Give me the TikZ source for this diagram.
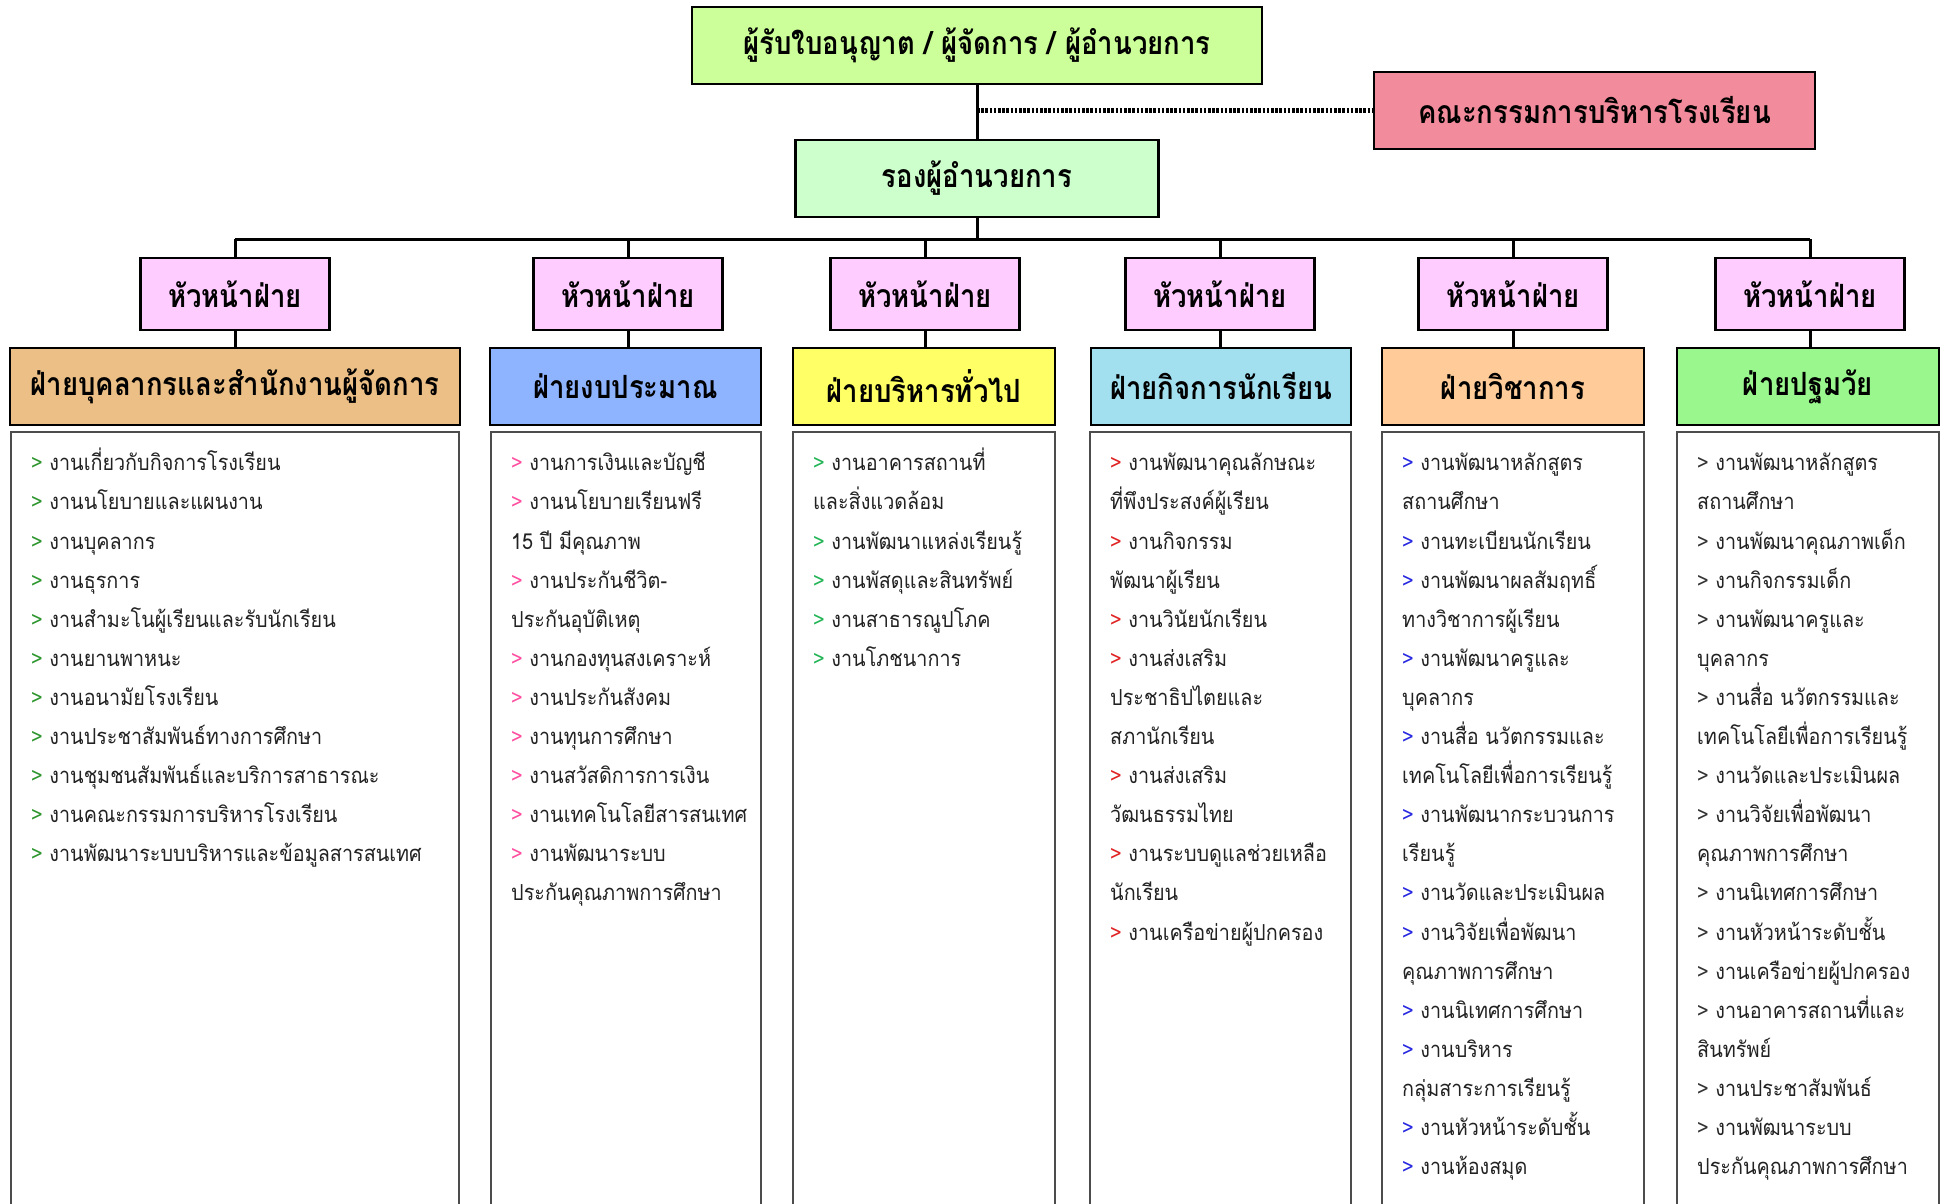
\documentclass[tikz,border=0pt]{standalone}
\usepackage{fontspec}
\newfontfamily\thaifont[Script=Thai,FakeStretch=0.86]{Loma}
\newfontfamily\thailist[Script=Thai,FakeStretch=0.9]{Loma}
\usetikzlibrary{positioning}
\definecolor{ctop}{HTML}{CCFF99}
\definecolor{ccomm}{HTML}{F28C9C}
\definecolor{cvice}{HTML}{CCFFCC}
\definecolor{chead}{HTML}{FFCCFF}
\definecolor{cdA}{HTML}{EBBF85}
\definecolor{cdB}{HTML}{8EB4FF}
\definecolor{cdC}{HTML}{FFFF66}
\definecolor{cdD}{HTML}{A2DFEF}
\definecolor{cdE}{HTML}{FFCC99}
\definecolor{cdF}{HTML}{99F78D}
\definecolor{bA}{HTML}{2E962E}
\definecolor{bB}{HTML}{FF4FA0}
\definecolor{bC}{HTML}{22B455}
\definecolor{bD}{HTML}{E02424}
\definecolor{bE}{HTML}{2828E0}
\definecolor{bF}{HTML}{333333}
\definecolor{ltext}{HTML}{222222}
\newcommand{\bul}[1]{\textcolor{#1}{>}\ }
\newcommand{\firststrut}{\vphantom{ที่}}
\tikzset{
  hbox/.style={draw=black, line width=2.8pt, inner sep=0pt, font=\thaifont\bfseries\fontsize{32}{36}\selectfont, text=black},
  headbox/.style={hbox, fill=chead, minimum width=189pt, minimum height=72pt},
  deptbox/.style={hbox, minimum height=77pt},
  listbox/.style={draw=black!70, line width=1.6pt, inner sep=0pt},
  listtext/.style={inner sep=0pt, align=left, anchor=north west, text=ltext, font=\thailist\fontsize{22}{39.1}\selectfont},
  conn/.style={line width=3pt, black},
  dotconn/.style={line width=5pt, black, dash pattern=on 2.6pt off 1.6pt}
}
\begin{document}
\begin{tikzpicture}[x=1pt,y=-1pt]
\useasboundingbox (0,0) rectangle (1944,1203);
\clip (0,0) rectangle (1944,1203);
% top level
\node[hbox, fill=ctop, minimum width=570pt, minimum height=77pt] (top) at (977,45.5) {ผู้รับใบอนุญาต / ผู้จัดการ / ผู้อำนวยการ};
\node[hbox, fill=ccomm, minimum width=441pt, minimum height=77pt] (comm) at (1594.5,110.5) {คณะกรรมการบริหารโรงเรียน};
\node[hbox, fill=cvice, minimum width=363pt, minimum height=77pt] (vice) at (977,178.5) {รองผู้อำนวยการ};
% heads
\node[headbox] (h1) at (235,294) {หัวหน้าฝ่าย};
\node[headbox] (h2) at (628,294) {หัวหน้าฝ่าย};
\node[headbox] (h3) at (925,294) {หัวหน้าฝ่าย};
\node[headbox] (h4) at (1220,294) {หัวหน้าฝ่าย};
\node[headbox] (h5) at (1513,294) {หัวหน้าฝ่าย};
\node[headbox] (h6) at (1810,294) {หัวหน้าฝ่าย};
% departments
\node[deptbox, fill=cdA, minimum width=450pt] (d1) at (235,386.5) {ฝ่ายบุคลากรและสำนักงานผู้จัดการ};
\node[deptbox, fill=cdB, minimum width=271pt] (d2) at (625.5,386.5) {ฝ่ายงบประมาณ};
\node[deptbox, fill=cdC, minimum width=262pt] (d3) at (924,386.5) {ฝ่ายบริหารทั่วไป};
\node[deptbox, fill=cdD, minimum width=260pt] (d4) at (1221,386.5) {ฝ่ายกิจการนักเรียน};
\node[deptbox, fill=cdE, minimum width=262pt] (d5) at (1513,386.5) {ฝ่ายวิชาการ};
\node[deptbox, fill=cdF, minimum width=262pt] (d6) at (1808,386.5) {ฝ่ายปฐมวัย};
% list frames
\node[listbox, minimum width=448pt, minimum height=820pt, anchor=north] (b1) at (235,431) {};
\node[listbox, minimum width=270pt, minimum height=820pt, anchor=north] (b2) at (626,431) {};
\node[listbox, minimum width=262pt, minimum height=820pt, anchor=north] (b3) at (924,431) {};
\node[listbox, minimum width=261pt, minimum height=820pt, anchor=north] (b4) at (1220.5,431) {};
\node[listbox, minimum width=262pt, minimum height=820pt, anchor=north] (b5) at (1513,431) {};
\node[listbox, minimum width=262pt, minimum height=820pt, anchor=north] (b6) at (1808,431) {};
% list texts
\node[listtext] (t1) at (31,448) {%
\firststrut\bul{bA}งานเกี่ยวกับกิจการโรงเรียน\\
\bul{bA}งานนโยบายและแผนงาน\\
\bul{bA}งานบุคลากร\\
\bul{bA}งานธุรการ\\
\bul{bA}งานสำมะโนผู้เรียนและรับนักเรียน\\
\bul{bA}งานยานพาหนะ\\
\bul{bA}งานอนามัยโรงเรียน\\
\bul{bA}งานประชาสัมพันธ์ทางการศึกษา\\
\bul{bA}งานชุมชนสัมพันธ์และบริการสาธารณะ\\
\bul{bA}งานคณะกรรมการบริหารโรงเรียน\\
\bul{bA}งานพัฒนาระบบบริหารและข้อมูลสารสนเทศ};
\node[listtext] (t2) at (511,448) {%
\firststrut\bul{bB}งานการเงินและบัญชี\\
\bul{bB}งานนโยบายเรียนฟรี\\
15 ปี มีคุณภาพ\\
\bul{bB}งานประกันชีวิต-\\
ประกันอุบัติเหตุ\\
\bul{bB}งานกองทุนสงเคราะห์\\
\bul{bB}งานประกันสังคม\\
\bul{bB}งานทุนการศึกษา\\
\bul{bB}งานสวัสดิการการเงิน\\
\bul{bB}งานเทคโนโลยีสารสนเทศ\\
\bul{bB}งานพัฒนาระบบ\\
ประกันคุณภาพการศึกษา};
\node[listtext] (t3) at (813,448) {%
\firststrut\bul{bC}งานอาคารสถานที่\\
และสิ่งแวดล้อม\\
\bul{bC}งานพัฒนาแหล่งเรียนรู้\\
\bul{bC}งานพัสดุและสินทรัพย์\\
\bul{bC}งานสาธารณูปโภค\\
\bul{bC}งานโภชนาการ};
\node[listtext] (t4) at (1110,448) {%
\firststrut\bul{bD}งานพัฒนาคุณลักษณะ\\
ที่พึงประสงค์ผู้เรียน\\
\bul{bD}งานกิจกรรม\\
พัฒนาผู้เรียน\\
\bul{bD}งานวินัยนักเรียน\\
\bul{bD}งานส่งเสริม\\
ประชาธิปไตยและ\\
สภานักเรียน\\
\bul{bD}งานส่งเสริม\\
วัฒนธรรมไทย\\
\bul{bD}งานระบบดูแลช่วยเหลือ\\
นักเรียน\\
\bul{bD}งานเครือข่ายผู้ปกครอง};
\node[listtext] (t5) at (1402,448) {%
\firststrut\bul{bE}งานพัฒนาหลักสูตร\\
สถานศึกษา\\
\bul{bE}งานทะเบียนนักเรียน\\
\bul{bE}งานพัฒนาผลสัมฤทธิ์\\
ทางวิชาการผู้เรียน\\
\bul{bE}งานพัฒนาครูและ\\
บุคลากร\\
\bul{bE}งานสื่อ นวัตกรรมและ\\
เทคโนโลยีเพื่อการเรียนรู้\\
\bul{bE}งานพัฒนากระบวนการ\\
เรียนรู้\\
\bul{bE}งานวัดและประเมินผล\\
\bul{bE}งานวิจัยเพื่อพัฒนา\\
คุณภาพการศึกษา\\
\bul{bE}งานนิเทศการศึกษา\\
\bul{bE}งานบริหาร\\
กลุ่มสาระการเรียนรู้\\
\bul{bE}งานหัวหน้าระดับชั้น\\
\bul{bE}งานห้องสมุด};
\node[listtext] (t6) at (1697,448) {%
\firststrut\bul{bF}งานพัฒนาหลักสูตร\\
สถานศึกษา\\
\bul{bF}งานพัฒนาคุณภาพเด็ก\\
\bul{bF}งานกิจกรรมเด็ก\\
\bul{bF}งานพัฒนาครูและ\\
บุคลากร\\
\bul{bF}งานสื่อ นวัตกรรมและ\\
เทคโนโลยีเพื่อการเรียนรู้\\
\bul{bF}งานวัดและประเมินผล\\
\bul{bF}งานวิจัยเพื่อพัฒนา\\
คุณภาพการศึกษา\\
\bul{bF}งานนิเทศการศึกษา\\
\bul{bF}งานหัวหน้าระดับชั้น\\
\bul{bF}งานเครือข่ายผู้ปกครอง\\
\bul{bF}งานอาคารสถานที่และ\\
สินทรัพย์\\
\bul{bF}งานประชาสัมพันธ์\\
\bul{bF}งานพัฒนาระบบ\\
ประกันคุณภาพการศึกษา};
% connectors
\coordinate (dj) at (top.south |- comm.west);
\draw[conn] (top.south) -- (vice.north);
\draw[dotconn] (dj) -- (comm.west);
\coordinate (busL) at (h1.north |- 0,239);
\coordinate (busR) at (h6.north |- 0,239);
\draw[conn] (busL) -- (busR);
\draw[conn] (vice.south) -- (vice.south |- busL);
\foreach \i in {1,...,6} {
  \draw[conn] (h\i.north) -- (h\i.north |- busL);
  \draw[conn] (h\i.south) -- (h\i.south |- d\i.north);
}
\end{tikzpicture}
\end{document}
